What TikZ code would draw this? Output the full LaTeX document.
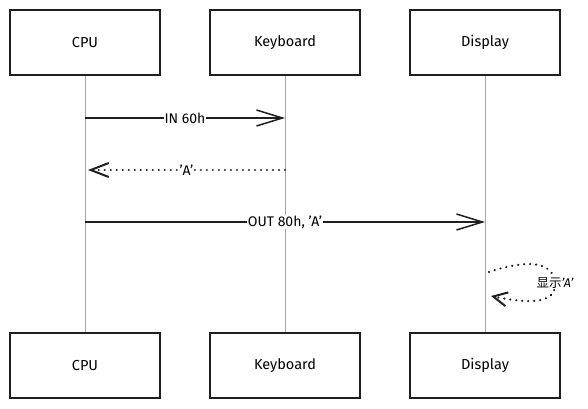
\documentclass[tikz,border=0pt]{standalone}
\usepackage{fontspec}
\setmainfont{Fira Sans}
\newfontfamily\cjk{Noto Sans CJK SC}
\usetikzlibrary{arrows.meta}
\begin{document}
\begin{tikzpicture}[x=1pt,y=-1pt,
  actor/.style={draw=black!88,line width=1.4pt,minimum width=150pt,minimum height=65pt,inner sep=0pt,font=\fontsize{14.5}{16}\selectfont,fill=white},
  life/.style={draw=black!35,line width=0.9pt},
  msg/.style={draw=black!88,line width=1.5pt,-{Straight Barb[length=26pt,width=16pt,line width=1.5pt]}},
  ret/.style={msg,line width=2.4pt,dash pattern=on 0.01pt off 6pt,line cap=round},
  lbl/.style={fill=white,inner sep=1pt,font=\fontsize{14}{16}\selectfont}]
\useasboundingbox (0,0) rectangle (588,408);
% lifelines
\coordinate (c1) at (85,75); \coordinate (c2) at (85,333);
\coordinate (k1) at (285,75); \coordinate (k2) at (285,333);
\coordinate (d1) at (485,75); \coordinate (d2) at (485,333);
\draw[life] (c1) -- (c2);
\draw[life] (k1) -- (k2);
\draw[life] (d1) -- (d2);
% actors
\node[actor] (cpuT) at (85,42.5) {CPU};
\node[actor] (kbT) at (285,42.5) {Keyboard};
\node[actor] (dpT) at (485,42.5) {Display};
\node[actor] (cpuB) at (85,365.5) {CPU};
\node[actor] (kbB) at (285,365.5) {Keyboard};
\node[actor] (dpB) at (485,365.5) {Display};
% messages
\coordinate (m1a) at (85,118); \coordinate (m1b) at (285,118);
\draw[msg] (m1a) -- node[lbl] {IN 60h} (m1b);
\coordinate (m2a) at (285,170); \coordinate (m2b) at (88,170);
\draw[ret,-{Straight Barb[length=18pt,width=14pt,line width=2pt]}] (m2a) -- node[lbl] {'A'} (m2b);
\coordinate (m3a) at (85,222); \coordinate (m3b) at (485,222);
\draw[msg] (m3a) -- node[lbl] {OUT 80h, 'A'} (m3b);
\coordinate (s1) at (489,272); \coordinate (s2) at (491,296);
\coordinate (sm) at (555,283);
\draw[ret,-{Straight Barb[length=14pt,width=14pt,line width=2pt]}] (s1) .. controls (525,260) and (553,260) .. (sm) .. controls (557,307) and (520,302) .. (s2);
\node[lbl,font=\fontsize{12.5}{14}\selectfont,inner sep=0.5pt] (slbl) at (sm) {\cjk 显示\rmfamily\itshape 'A'};
\end{tikzpicture}
\end{document}
